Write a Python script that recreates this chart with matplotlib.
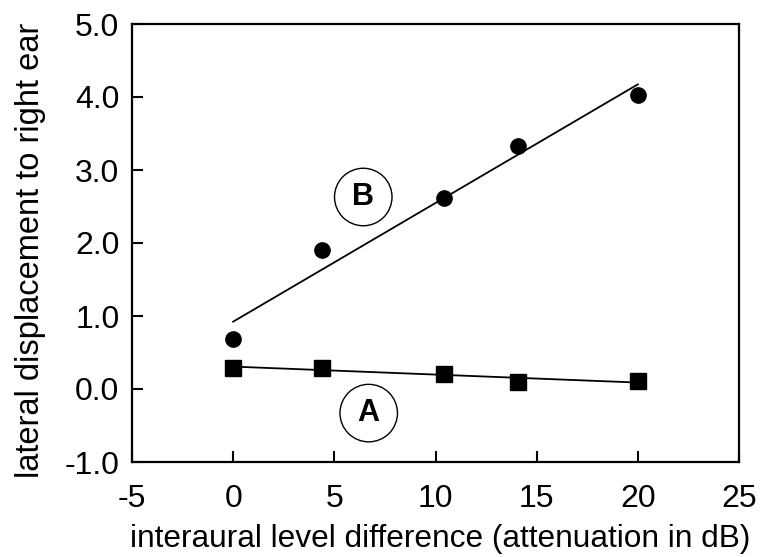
import matplotlib.pyplot as plt
import numpy as np

plt.rcParams['font.family'] = ['Liberation Sans', 'DejaVu Sans']

# Data
ild_b = [0, 4.4, 10.4, 14.1, 20]
disp_b = [0.68, 1.90, 2.62, 3.33, 4.03]
ild_a = [0, 4.4, 10.4, 14.1, 20]
disp_a = [0.29, 0.29, 0.21, 0.10, 0.11]
x_ticks = [-5, 0, 5, 10, 15, 20, 25]
y_ticks = [-1.0, 0.0, 1.0, 2.0, 3.0, 4.0, 5.0]

fig = plt.figure(figsize=(7.6, 5.57), dpi=100)
ax = fig.add_axes([132 / 760, 1 - 462 / 557, 607 / 760, 438 / 557])

# Linear fits through each set of points
xfit = np.array([0, 20])
slope_b, icpt_b = np.polyfit(ild_b, disp_b, 1)
slope_a, icpt_a = np.polyfit(ild_a, disp_a, 1)
ax.plot(xfit, icpt_b + slope_b * xfit, color='black', lw=1.3)
ax.plot(xfit, icpt_a + slope_a * xfit, color='black', lw=1.3)

ax.plot(ild_b, disp_b, 'o', color='black', markersize=11)
ax.plot(ild_a, disp_a, 's', color='black', markersize=11)

# Circled labels
ax.text(6.43, 2.63, 'B', fontsize=22, fontweight='bold', ha='center', va='center',
        bbox=dict(boxstyle='circle,pad=0.45', fc='white', ec='black', lw=1.0))
ax.text(6.7, -0.33, 'A', fontsize=22, fontweight='bold', ha='center', va='center',
        bbox=dict(boxstyle='circle,pad=0.45', fc='white', ec='black', lw=1.0))

ax.set_xlim(-5, 25)
ax.set_ylim(-1, 5)
ax.set_xticks(x_ticks)
ax.set_yticks(y_ticks)
ax.set_xticklabels([str(t) for t in x_ticks])
ax.set_yticklabels([f"{t:.1f}" for t in y_ticks])
ax.tick_params(direction='in', length=8, width=1.5, labelsize=23)
ax.tick_params(axis='x', pad=16)
ax.tick_params(axis='y', pad=9)

for sp in ax.spines.values():
    sp.set_linewidth(1.6)

ax.set_xlabel("interaural level difference (attenuation in dB)", fontsize=22.8)
ax.set_ylabel("lateral displacement to right ear", fontsize=23.5)
ax.xaxis.set_label_coords(0.508, -0.142)
ax.yaxis.set_label_coords(-0.142, 0.484)

fig.savefig("out.png", dpi=100)
